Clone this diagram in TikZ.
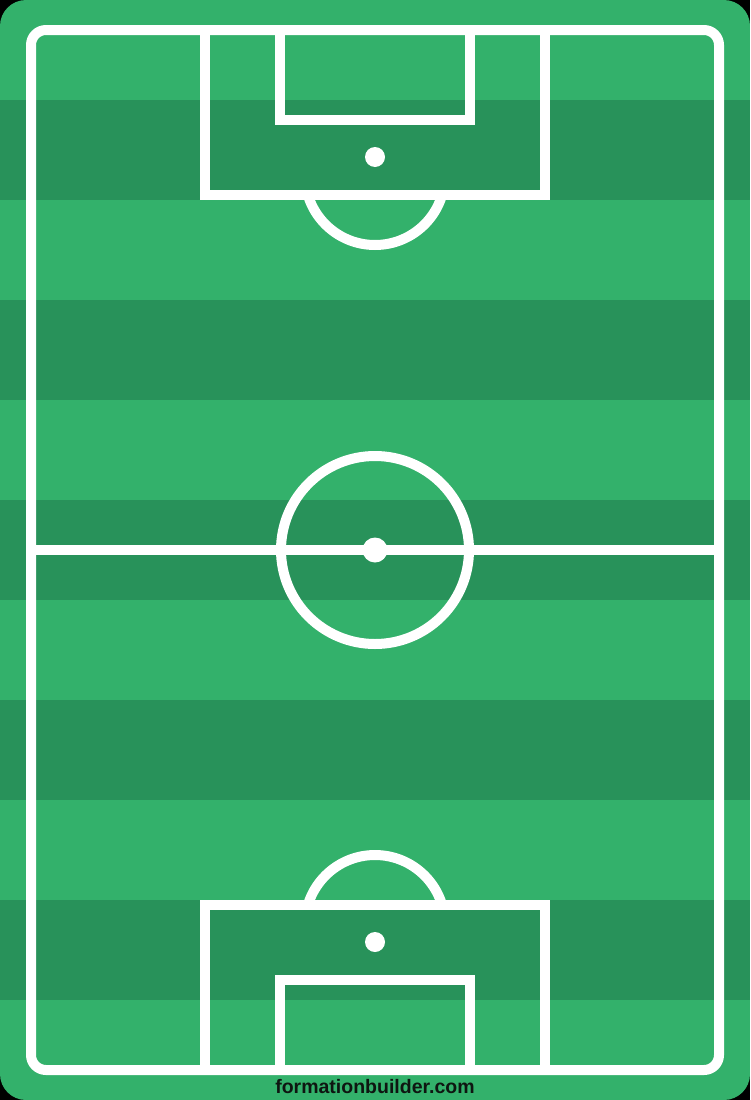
\documentclass[tikz,border=0pt]{standalone}
\usepackage{fontspec}
\newfontfamily\brandfont{Liberation Sans}
\definecolor{grasslight}{RGB}{51,177,107}
\definecolor{grassdark}{RGB}{40,146,90}
\definecolor{brandtext}{RGB}{14,22,17}

\begin{document}
\begin{tikzpicture}[x=1pt,y=-1pt]
\tikzset{pitchline/.style = {draw=white, line width=10pt},
         spot/.style = {fill=white}}

\useasboundingbox (0,0) rectangle (750,1100);
\fill[black] (0,0) rectangle (750,1100);

%grass
\begin{scope}
\clip[rounded corners=26pt] (0,0) rectangle (750,1100);
\foreach \i in {0,...,10} {
  \ifodd\i
    \fill[grassdark] (0,100*\i) rectangle (750,100*\i+100);
  \else
    \fill[grasslight] (0,100*\i) rectangle (750,100*\i+100);
  \fi
}
\end{scope}

%penalty arcs
\begin{scope}
\clip (0,195) rectangle (750,300);
\draw[pitchline] (375,175) circle (70pt);
\end{scope}
\begin{scope}
\clip (0,800) rectangle (750,905);
\draw[pitchline] (375,925) circle (70pt);
\end{scope}

%boxes
\draw[pitchline] (205,30) -- (205,195) -- (545,195) -- (545,30);
\draw[pitchline] (280,30) -- (280,120) -- (470,120) -- (470,30);
\draw[pitchline] (205,1070) -- (205,905) -- (545,905) -- (545,1070);
\draw[pitchline] (280,1070) -- (280,980) -- (470,980) -- (470,1070);

%halfway
\draw[pitchline] (31,550) -- (719,550);
\draw[pitchline] (375,550) circle (94pt);

%outline
\draw[pitchline, rounded corners=15pt] (31,30) rectangle (719,1070);

%spots
\fill[spot] (375,157) circle (10pt);
\fill[spot] (375,550) circle (12.5pt);
\fill[spot] (375,942) circle (10pt);

\node[text=brandtext, font=\brandfont\bfseries\fontsize{19.5}{21}\selectfont] (brand) at (375,1087) {formationbuilder.com};
\end{tikzpicture}
\end{document}
